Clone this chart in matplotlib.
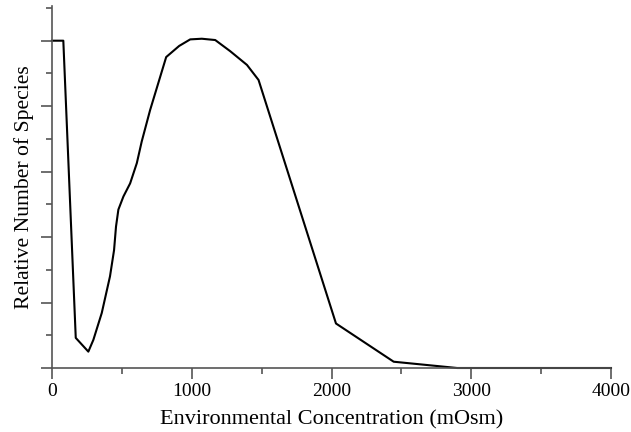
import matplotlib
matplotlib.use("Agg")
import matplotlib.pyplot as plt
from matplotlib.ticker import MultipleLocator, NullFormatter

conc = [0, 81, 170, 260, 296, 356, 415, 444, 458, 475, 511, 559, 607, 642, 702,
        817, 910, 989, 1072, 1168, 1275, 1395, 1478, 2032, 2445, 2899, 4000]
species = [5.0, 5.0, 0.46, 0.25, 0.43, 0.84, 1.40, 1.80, 2.16, 2.42, 2.62, 2.82, 3.13,
           3.46, 3.94, 4.75, 4.92, 5.02, 5.03, 5.01, 4.84, 4.63, 4.40, 0.68, 0.096, 0.0, 0.0]
xticks = [0, 1000, 2000, 3000, 4000]

plt.rcParams['font.family'] = ['Liberation Serif', 'DejaVu Serif']

W, H = 631, 432
fig = plt.figure(figsize=(W / 100, H / 100), dpi=100)
ax = fig.add_axes([52 / W, (H - 368) / H, (611 - 52) / W, (368 - 6) / H])

ax.plot(conc, species, color='black', lw=1.5, solid_joinstyle='round', clip_on=False)

ax.set_xlim(0, 4000)
ax.set_ylim(0, 5.53)
ax.set_xticks(xticks)
ax.set_xticklabels([str(t) for t in xticks])
ax.xaxis.set_minor_locator(MultipleLocator(500))
ax.yaxis.set_major_locator(MultipleLocator(1))
ax.yaxis.set_minor_locator(MultipleLocator(0.5))
ax.yaxis.set_major_formatter(NullFormatter())

spine_col = '#555555'
for s in ['top', 'right']:
    ax.spines[s].set_visible(False)
for s in ['left', 'bottom']:
    ax.spines[s].set_color(spine_col)
    ax.spines[s].set_linewidth(1.2)

ax.tick_params(which='major', direction='out', length=8, width=1.2, color=spine_col,
               labelsize=14, pad=3)
ax.tick_params(which='minor', direction='out', length=4, width=1.2, color=spine_col)

ax.set_xlabel('Environmental Concentration (mOsm)', fontsize=16, labelpad=7)
ax.set_ylabel('Relative Number of Species', fontsize=15.6, labelpad=2)

fig.savefig('out.png', dpi=100)
